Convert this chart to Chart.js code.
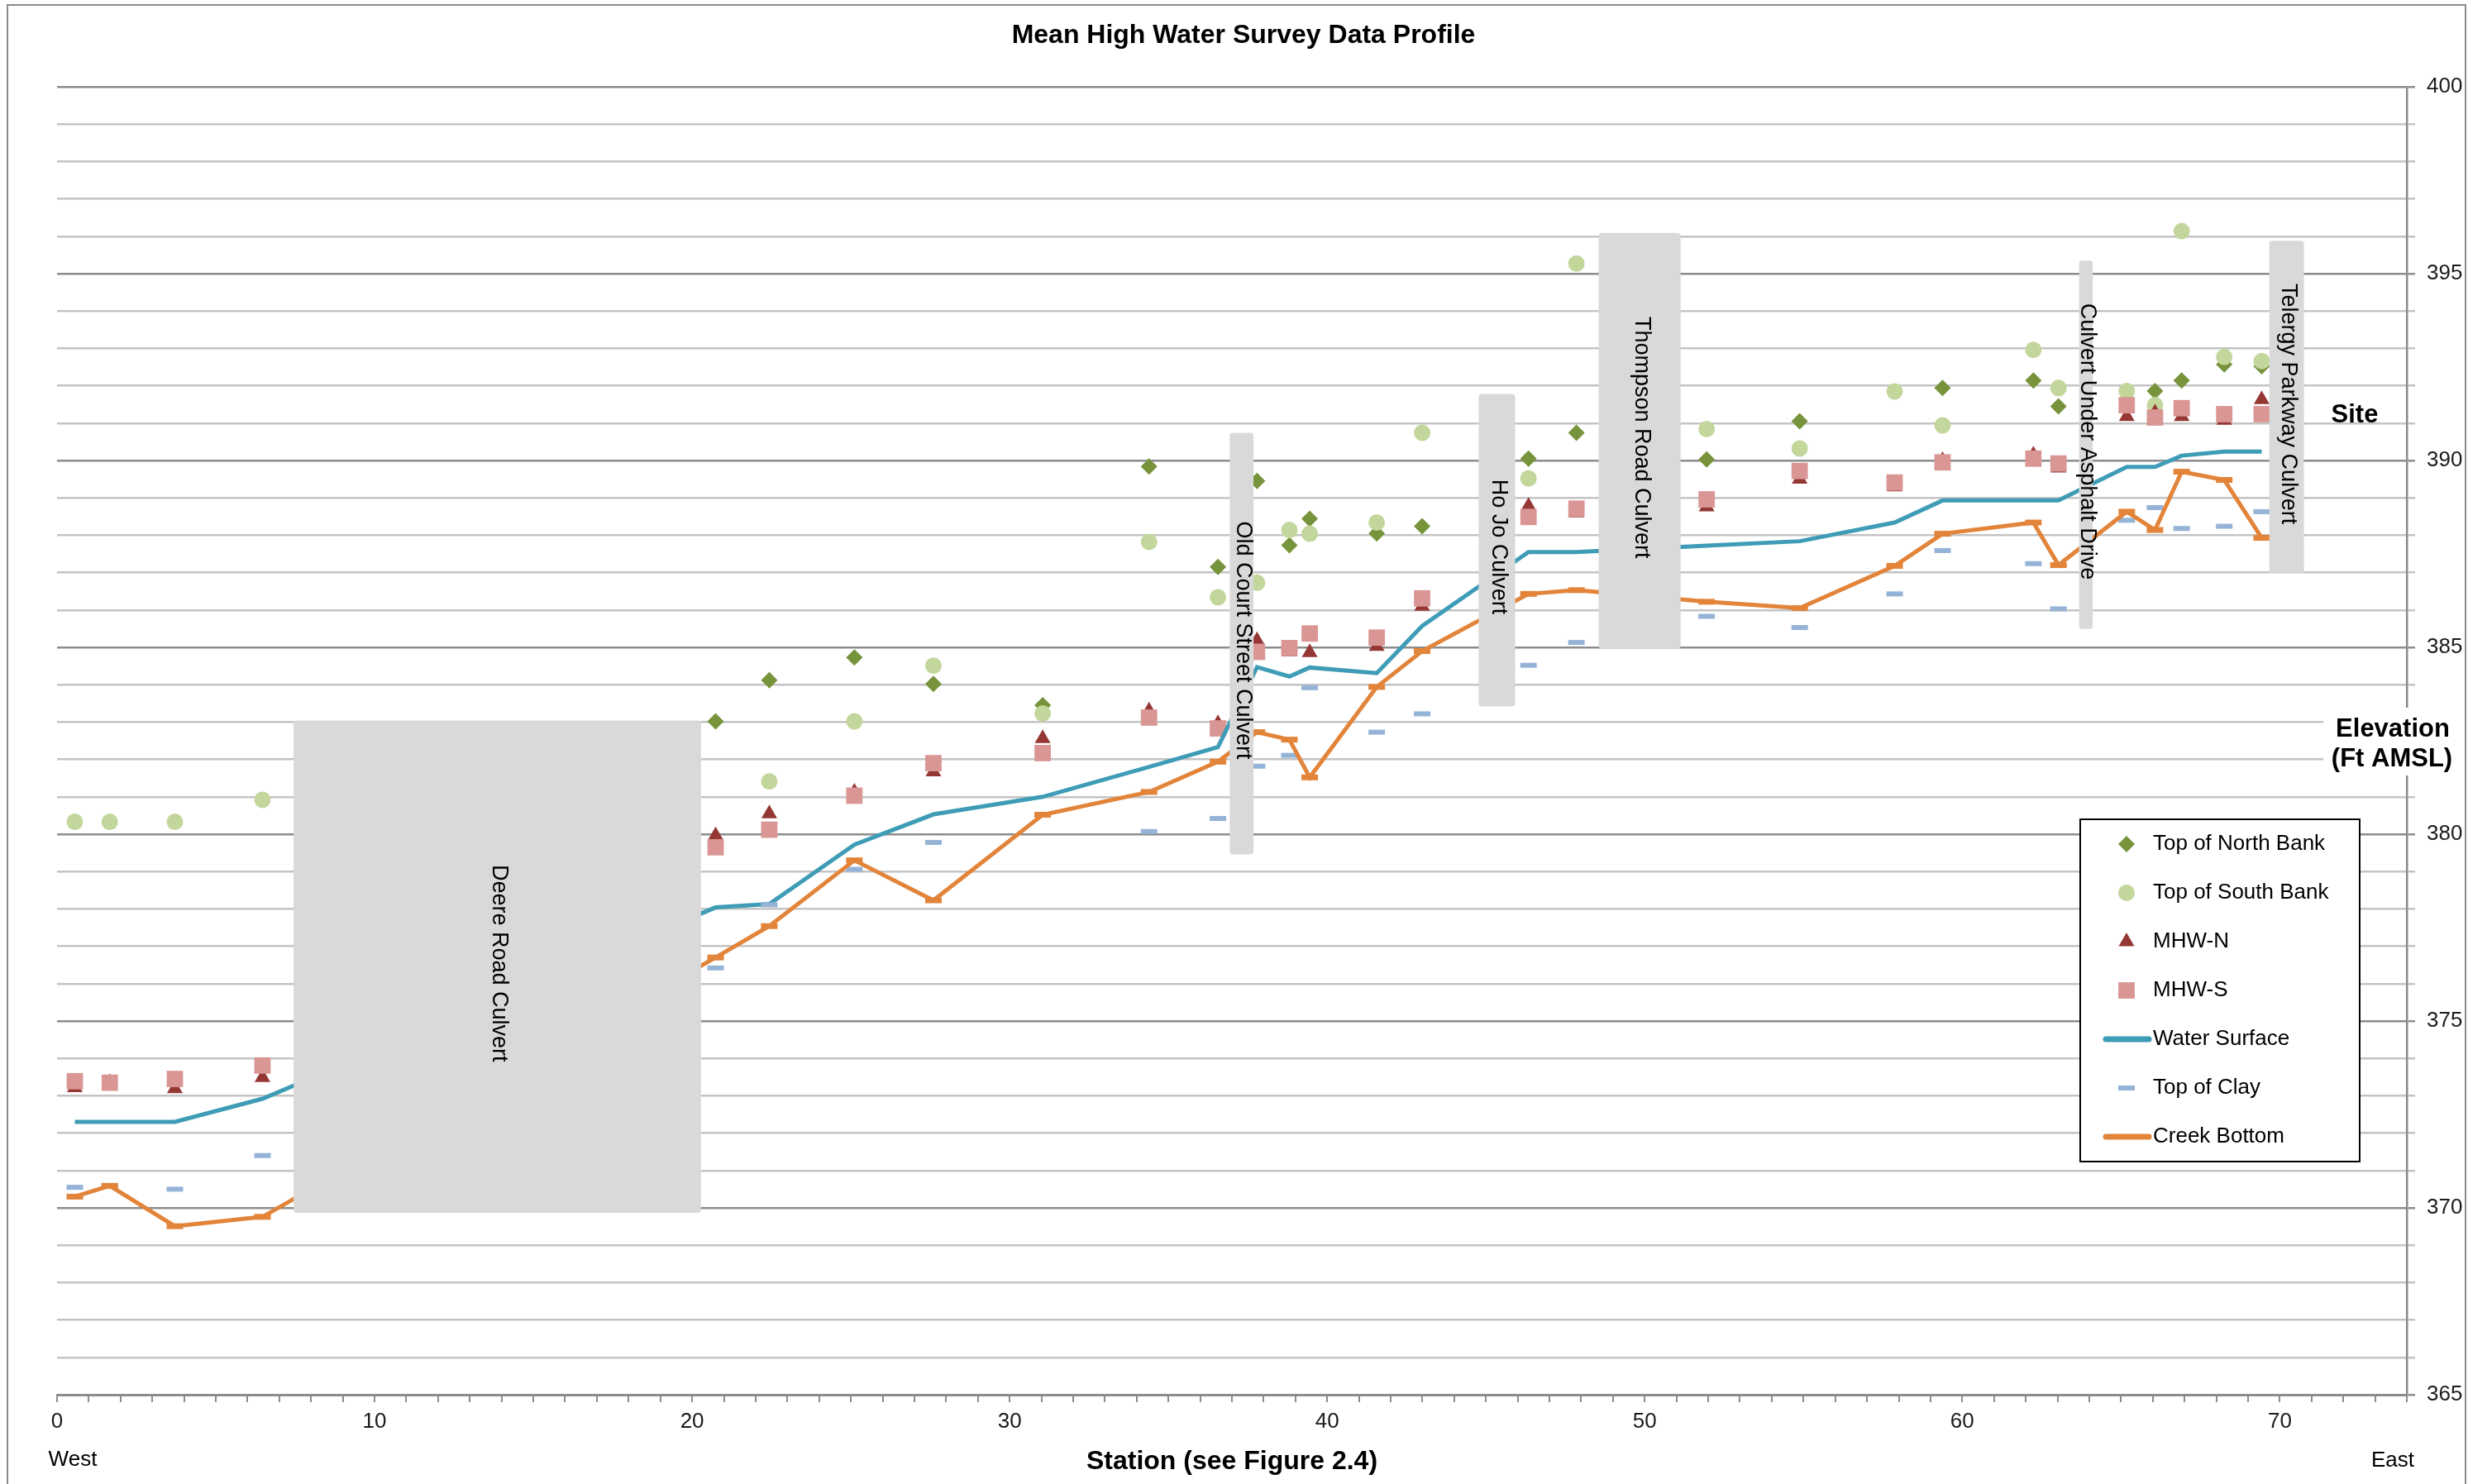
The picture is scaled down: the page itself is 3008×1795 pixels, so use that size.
<!DOCTYPE html>
<html>
<head>
<meta charset="utf-8">
<script src="https://cdn.jsdelivr.net/npm/chart.js@4.4.0/dist/chart.umd.min.js"></script>
<style>
  html, body { margin: 0; padding: 0; background: #fff; }
  #wrap { width: 3008px; height: 1795px; }
</style>
</head>
<body>
<div id="wrap"><canvas id="profile" width="3008" height="1795"></canvas></div>
<script>
// survey stations (x) shared by all series
const stations = [0.56, 1.66, 3.71, 6.47, 20.74, 22.43, 25.11, 27.6, 31.04, 34.39, 36.56, 37.79, 38.81, 39.45, 41.56,
  42.99, 46.34, 47.85, 51.95, 54.88, 57.87, 59.38, 62.24, 63.03, 65.18, 66.07, 66.91, 68.25, 69.43];

const northBank = [null, null, null, null, 383.02, 384.12, 384.73, 384.02, 383.45, 389.84, 387.15, 389.45, 387.73, 388.44, 388.05,
  388.24, 390.05, 390.74, 390.03, 391.05, null, 391.94, 392.14, 391.45, null, 391.86, 392.14, 392.57, 392.52];
const southBank = [380.33, 380.33, 380.33, 380.92, null, 381.41, 383.02, 384.51, 383.23, 387.82, 386.34, 386.73, 388.14, 388.04, 388.34,
  390.74, 389.52, 395.27, 390.84, 390.32, 391.85, 390.94, 392.96, 391.94, 391.86, 391.48, 396.14, 392.77, 392.66];
const mhwN = [373.22, 373.35, 373.19, 373.49, 379.96, 380.55, 381.13, 381.67, 382.56, 383.3, 382.96, 385.18, 384.88, 384.86, 385.03,
  386.1, 388.78, 388.6, 388.76, 389.5, 389.3, 390.0, 390.15, 389.8, 391.18, 391.28, 391.18, 391.08, 391.63];
const mhwS = [373.39, 373.35, 373.45, 373.81, 379.65, 380.12, 381.03, 381.9, 382.17, 383.12, 382.83, 384.88, 384.98, 385.37, 385.26,
  386.31, 388.49, 388.71, 388.96, 389.72, 389.41, 389.95, 390.05, 389.92, 391.48, 391.15, 391.4, 391.24, 391.24];
const waterSurface = [372.3, 372.3, 372.3, 372.92, 378.04, 378.13, 379.72, 380.53, 381.0, 381.8, 382.33, 384.47, 384.22, 384.46, 384.31,
  385.57, 387.55, 387.55, 387.72, 387.84, 388.34, 388.93, 388.93, 388.93, 389.83, 389.83, 390.13, 390.24, 390.24];
const topOfClay = [370.55, 370.59, 370.5, 371.4, 376.42, 378.11, 379.06, 379.78, 380.52, 380.07, 380.42, 381.82, 382.11, 383.92, 382.73,
  383.22, 384.52, 385.13, 385.83, 385.53, 386.43, 387.59, 387.24, 386.03, 388.4, 388.74, 388.18, 388.24, 388.63];
const creekBottom = [370.3, 370.59, 369.51, 369.76, 376.7, 377.54, 379.3, 378.23, 380.52, 381.13, 381.94, 382.73, 382.53, 381.52, 383.94,
  384.9, 386.43, 386.53, 386.22, 386.05, 387.18, 388.04, 388.34, 387.2, 388.63, 388.14, 389.7, 389.48, 387.93];

// culvert call-outs (station / elevation extents)
const culverts = [
  { label: 'Deere Road Culvert', x0: 7.45, x1: 20.28, y0: 369.87, y1: 383.04 },
  { label: 'Old Court Street Culvert', x0: 36.93, x1: 37.68, y0: 379.46, y1: 390.74 },
  { label: 'Ho Jo Culvert', x0: 44.77, x1: 45.92, y0: 383.42, y1: 391.78 },
  { label: 'Thompson Road Culvert', x0: 48.55, x1: 51.13, y0: 384.96, y1: 396.09 },
  { label: 'Culvert Under Asphalt Drive', x0: 63.68, x1: 64.11, y0: 385.49, y1: 395.35 },
  { label: 'Telergy Parkway Culvert', x0: 69.67, x1: 70.76, y0: 386.97, y1: 395.88 }
];

const FONT = '"Liberation Sans", Arial, sans-serif';
Chart.defaults.font.family = FONT;

function pts(vals) {
  return stations.map((x, i) => ({ x: x, y: vals[i] })).filter(p => p.y !== null);
}

function marker(label, data, style, r, color, order) {
  return {
    label: label, data: pts(data), showLine: false, order: order,
    pointStyle: style, pointRadius: r, pointHoverRadius: r,
    pointBackgroundColor: color, pointBorderColor: color, pointBorderWidth: 0
  };
}

const datasets = [
  marker('Top of North Bank', northBank, 'rectRot', 10, '#77933c', 7),
  marker('Top of South Bank', southBank, 'circle', 10, '#c3d69b', 6),
  marker('MHW-N', mhwN, 'triangle', 11, '#953735', 5),
  marker('MHW-S', mhwS, 'rect', 14, '#d99694', 4),
  {
    label: 'Water Surface', data: pts(waterSurface), showLine: true, order: 3,
    borderColor: '#3f9cb6', borderWidth: 5, pointRadius: 0, tension: 0
  },
  {
    label: 'Top of Clay', data: pts(topOfClay), showLine: false, order: 2,
    pointStyle: 'line', pointRadius: 10, pointBorderColor: '#95b3d7', pointBorderWidth: 6
  },
  {
    label: 'Creek Bottom', data: pts(creekBottom), showLine: true, order: 1,
    borderColor: '#e2843a', borderWidth: 5, tension: 0,
    pointStyle: 'line', pointRadius: 10, pointBorderColor: '#e2843a', pointBorderWidth: 7
  }
];

const culvertPlugin = {
  id: 'culverts',
  afterDatasetsDraw(chart) {
    const ctx = chart.ctx, xs = chart.scales.x, ys = chart.scales.y;
    ctx.save();
    culverts.forEach(c => {
      const l = xs.getPixelForValue(c.x0), r = xs.getPixelForValue(c.x1);
      const t = ys.getPixelForValue(c.y1), b = ys.getPixelForValue(c.y0);
      ctx.fillStyle = '#d9d9d9';
      ctx.beginPath();
      ctx.roundRect(l, t, r - l, b - t, 4);
      ctx.fill();
      ctx.save();
      ctx.translate((l + r) / 2 + 2, (t + b) / 2 - 4);
      ctx.rotate(Math.PI / 2);
      ctx.fillStyle = '#000';
      ctx.font = '27px ' + FONT;
      ctx.textAlign = 'center';
      ctx.textBaseline = 'middle';
      ctx.fillText(c.label, 0, 0);
      ctx.restore();
    });
    ctx.restore();
  },
  afterDraw(chart) {
    const ctx = chart.ctx;
    ctx.save();
    // outer frame
    ctx.strokeStyle = '#8c8c8c';
    ctx.lineWidth = 2;
    ctx.strokeRect(9, 6, 2973, 1800);

    ctx.fillStyle = '#000';
    ctx.textBaseline = 'middle';
    ctx.textAlign = 'center';
    ctx.font = 'bold 32px ' + FONT;
    ctx.fillText('Mean High Water Survey Data Profile', 1504, 43);
    ctx.fillText('Station (see Figure 2.4)', 1490, 1768);

    ctx.font = '26px ' + FONT;
    ctx.fillText('West', 88, 1766);
    ctx.fillText('East', 2894, 1767);

    // right axis title
    ctx.fillStyle = '#fff';
    ctx.fillRect(2810, 856, 168, 82);
    ctx.fillStyle = '#000';
    ctx.font = 'bold 31px ' + FONT;
    ctx.fillText('Site', 2848, 502);
    ctx.fillText('Elevation', 2894, 882);
    ctx.fillText('(Ft AMSL)', 2893, 918);

    // legend
    const lx = 2516, ly = 991, lw = 338, lh = 414;
    ctx.fillStyle = '#fff';
    ctx.fillRect(lx, ly, lw, lh);
    ctx.strokeStyle = '#000';
    ctx.lineWidth = 2;
    ctx.strokeRect(lx, ly, lw, lh);
    chart.data.datasets.forEach((ds, i) => {
      const y = 1021 + i * 59;
      if (ds.showLine) {
        ctx.strokeStyle = ds.borderColor;
        ctx.lineWidth = 7;
        ctx.lineCap = 'round';
        ctx.beginPath();
        ctx.moveTo(2547, y);
        ctx.lineTo(2599, y);
        ctx.stroke();
      } else {
        ctx.fillStyle = ds.pointBackgroundColor || ds.pointBorderColor;
        ctx.strokeStyle = ds.pointBorderColor;
        ctx.lineWidth = ds.pointBorderWidth;
        ctx.lineCap = 'butt';
        Chart.helpers.drawPoint(ctx, {
          pointStyle: ds.pointStyle, radius: ds.pointRadius, rotation: 0, borderWidth: ds.pointBorderWidth
        }, 2572, y);
      }
      ctx.fillStyle = '#000';
      ctx.textAlign = 'left';
      ctx.font = '26px ' + FONT;
      ctx.fillText(ds.label, 2604, y);
    });
    ctx.restore();
  }
};

new Chart(document.getElementById('profile'), {
  type: 'scatter',
  data: { datasets: datasets },
  options: {
    responsive: false,
    devicePixelRatio: 1,
    animation: false,
    layout: { padding: { left: 69, top: 105, right: 0, bottom: 0 } },
    plugins: {
      legend: { display: false },
      tooltip: { enabled: false }
    },
    scales: {
      x: {
        type: 'linear', min: 0, max: 74,
        afterFit: s => { s.height = 108; },
        ticks: {
          stepSize: 1, autoSkip: false, maxRotation: 0, padding: 8,
          color: '#1a1a1a', font: { size: 26 },
          callback: v => (v % 10 === 0 ? v : '')
        },
        grid: { drawOnChartArea: false, drawTicks: true, tickLength: 9, color: '#8c8c8c', lineWidth: 2 },
        border: { display: true, color: '#8c8c8c', width: 3 }
      },
      y: {
        type: 'linear', position: 'right', min: 365, max: 400,
        afterFit: s => { s.width = 97; },
        ticks: {
          stepSize: 1, autoSkip: false, padding: 14,
          color: '#1a1a1a', font: { size: 26 },
          callback: v => (v % 5 === 0 ? v : '')
        },
        grid: {
          color: c => (c.tick && c.tick.value % 5 === 0 ? '#8c8c8c' : '#c4c4c4'),
          lineWidth: 2.5, tickLength: 10
        },
        border: { display: true, color: '#8c8c8c', width: 2.5 }
      }
    }
  },
  plugins: [culvertPlugin]
});
</script>
</body>
</html>
